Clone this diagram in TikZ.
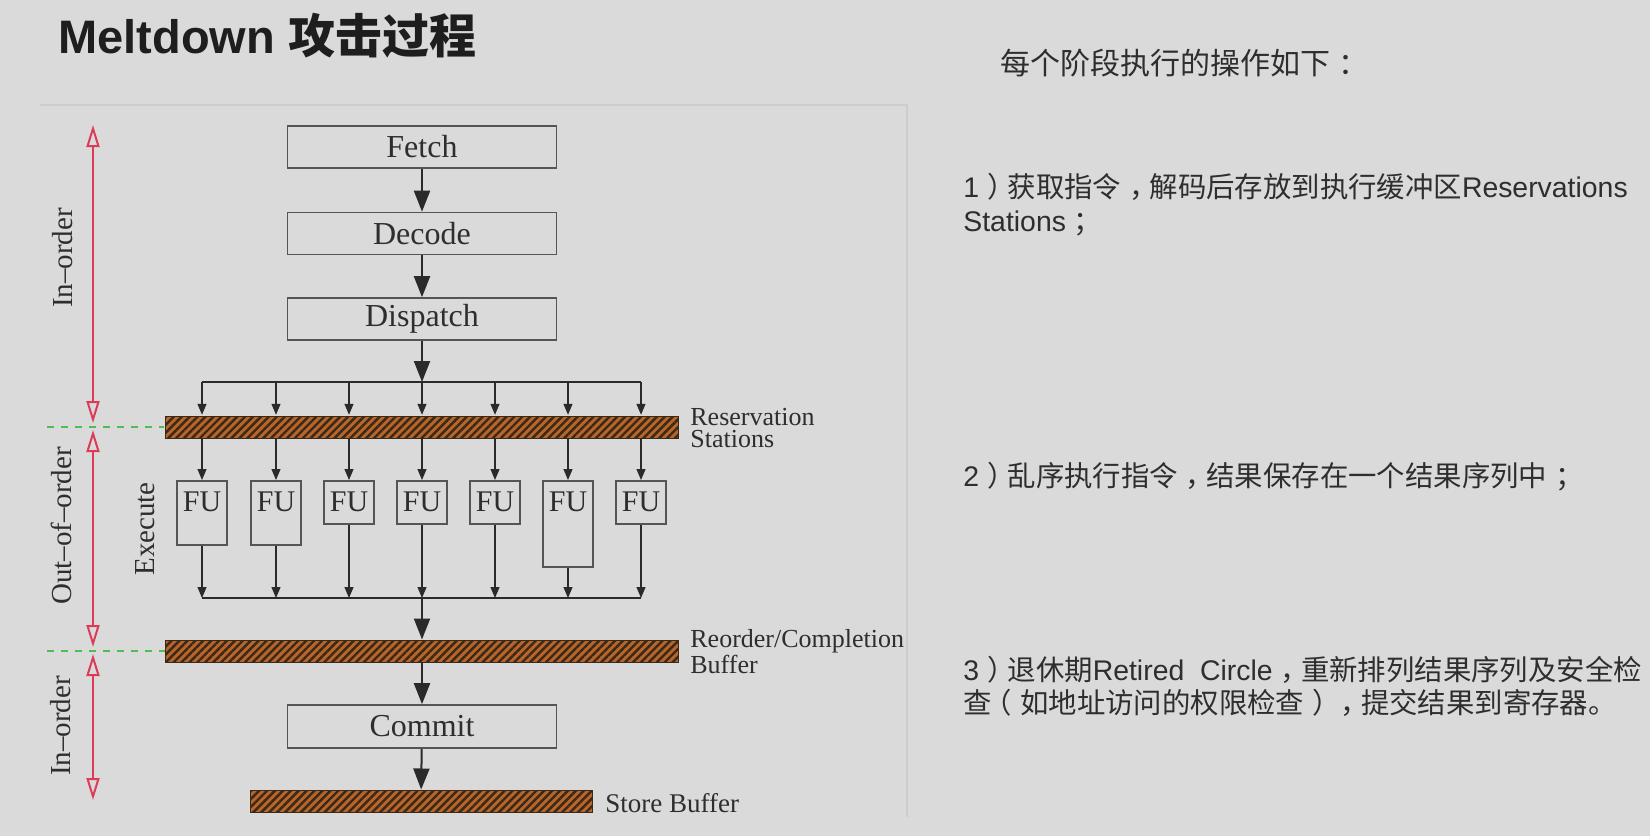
\documentclass[tikz,border=0pt]{standalone}
\usepackage{fontspec}
\setmainfont{Liberation Serif}
\newfontfamily\lat{Liberation Sans}
\newfontfamily\cjk{Noto Sans CJK SC}
\usetikzlibrary{arrows.meta,patterns.meta}

\definecolor{bgcol}{HTML}{DADADA}
\definecolor{edgecol}{HTML}{CDCDCD}
\definecolor{titlecol}{HTML}{1E1E1E}
\definecolor{txtcol}{HTML}{2E2E2E}
\definecolor{boxcol}{HTML}{555555}
\definecolor{wirecol}{HTML}{2A2A2A}
\definecolor{barfill}{HTML}{B8652A}
\definecolor{barstripe}{HTML}{3A2818}
\definecolor{stagered}{HTML}{DC3C5A}
\definecolor{splitgreen}{HTML}{4CC04C}

\newcommand\zh[1]{{\cjk #1}}
% full-width punctuation with its glyph moved to the middle of the em box
\newcommand\zpr[1]{\hspace{0.28em}{\cjk #1}\hspace{-0.28em}}
\newcommand\zpl[1]{\hspace{-0.28em}{\cjk #1}\hspace{0.28em}}

\tikzset{
  stagebox/.style={draw=boxcol, line width=0.8pt, minimum width=134.5pt,
    minimum height=21pt, inner sep=0pt, text=txtcol,
    font=\fontsize{16}{18}\selectfont},
  bufbar/.style={draw=barstripe, line width=0.5pt, inner sep=0pt,
    minimum height=11pt, preaction={fill=barfill},
    pattern={Lines[angle=45,distance=2.8pt,line width=1.2pt]},
    pattern color=barstripe},
  fubox/.style={draw=boxcol, line width=0.8pt, minimum width=25pt,
    inner sep=0pt, anchor=north},
  fulabel/.style={inner sep=0pt, text=txtcol, font=\fontsize{15}{17}\selectfont},
  buflabel/.style={anchor=west, inner sep=0pt, align=left, text=txtcol,
    font=\fontsize{13}{11}\selectfont},
  sidelabel/.style={rotate=90, inner sep=0pt, text=txtcol,
    font=\fontsize{14.5}{16}\selectfont},
  bigarrow/.style={draw=wirecol, line width=1pt,
    -{Triangle[length=10.5pt,width=8pt]}},
  smallarrow/.style={draw=wirecol, line width=0.6pt,
    -{Triangle[length=5.5pt,width=4.5pt]}},
  wire/.style={draw=wirecol, line width=0.6pt},
  spanarrow/.style={draw=stagered, line width=1pt,
    {Triangle[open,length=11pt,width=6.5pt]}-{Triangle[open,length=11pt,width=6.5pt]}},
  splitline/.style={draw=splitgreen, line width=1pt, dash pattern=on 3.5pt off 3.5pt},
  notes/.style={anchor=base west, inner sep=0pt, text=txtcol,
    font=\fontsize{14.2}{17}\selectfont},
}

\begin{document}
\begin{tikzpicture}[x=0.5pt,y=-0.5pt]
\useasboundingbox (0,0) rectangle (1650,836);
\fill[bgcol] (0,0) rectangle (1650,836);

% faint frame of the figure panel
\draw[edgecol, line width=1.2pt] (40,105) -- (907,105) -- (907,817);

% heading
\node[anchor=base west, inner sep=0pt, text=titlecol,
  font=\fontsize{23.5}{28}\selectfont\bfseries] (title) at (58,53)
  {\lat Meltdown {\cjk 攻击过程}};

% in-order front end
\node[stagebox] (fetch)    at (422,147)   {Fetch};
\node[stagebox] (decode)   at (422,233.5) {Decode};
\node[stagebox] (dispatch) at (422,319)   {Dispatch};

% buffers
\node[bufbar, minimum width=256.5pt] (rs)  at (422,427) {};
\node[bufbar, minimum width=256.5pt] (rob) at (422,651) {};
\node[bufbar, minimum width=171pt]   (sb)  at (421,801) {};

\node[buflabel] (rslabel) at (690,428) {Reservation\\Stations};
\begin{scope}
  \clip (0,0) rectangle (903,836);
  \node[buflabel] (roblabel) at (690,652) {Reorder/Completion\\Buffer};
\end{scope}
\node[anchor=west, inner sep=0pt, text=txtcol,
  font=\fontsize{13.5}{15}\selectfont] (sblabel) at (605,803) {Store Buffer};

% commit stage
\node[stagebox, minimum height=21.5pt] (commit) at (422,726.5) {Commit};

% functional units
\foreach \i/\x/\h in {1/202/32, 2/276/32, 3/349/21.5, 4/422/21.5,
                      5/495/21.5, 6/568/43, 7/641/21.5} {
  \node[fubox, minimum height=\h pt] (fu\i) at (\x,480) {};
  \node[fulabel] (fut\i) at (\x,501.5) {FU};
  \coordinate (fan\i) at (\x,382);
  \coordinate (col\i) at (\x,598);
}

% connections
\draw[bigarrow] (fetch) -- (decode);
\draw[bigarrow] (decode) -- (dispatch);
\draw[bigarrow] (dispatch) -- (fan4);
\draw[wire] (fan1) -- (fan7);
\foreach \i in {1,...,7} {
  \draw[smallarrow] (fan\i) -- (fan\i |- rs.north);
  \draw[smallarrow] (fu\i |- rs.south) -- (fu\i.north);
  \draw[smallarrow] (fu\i.south) -- (col\i);
}
\draw[wire] (col1) -- (col7);
\draw[bigarrow] (col4) -- (rob);
\draw[bigarrow] (rob) -- (commit);
\draw[bigarrow] (commit) -- (sb);

% pipeline ordering spans
\coordinate (s1a) at (93,125);
\coordinate (s1b) at (93,423);
\coordinate (s2a) at (93,430);
\coordinate (s2b) at (93,647);
\coordinate (s3a) at (93,654);
\coordinate (s3b) at (93,800);
\draw[spanarrow] (s1a) -- (s1b);
\draw[spanarrow] (s2a) -- (s2b);
\draw[spanarrow] (s3a) -- (s3b);

\coordinate (g1) at (47,427);
\coordinate (g2) at (47,651);
\draw[splitline] (g1) -- (rs.west);
\draw[splitline] (g2) -- (rob.west);

\node[sidelabel] (inorder1) at (63,258) {In--order};
\node[sidelabel] (ooo)      at (61,526) {Out--of--order};
\node[sidelabel] (inorder2) at (61,726) {In--order};
\node[sidelabel] (exec)     at (145,529) {Execute};

% explanatory notes
\node[notes, font=\fontsize{15}{18}\selectfont] (head) at (1000,74)
  {\zh{每个阶段执行的操作如下}\zpr{：}};
\node[notes] (n1a) at (963,197.5)
  {{\lat 1}\zpr{）}\zh{获取指令}\zpr{，}\zh{解码后存放到执行缓冲区}{\lat Reservations}};
\node[notes] (n1b) at (963,231.5) {{\lat Stations}\zpr{；}};
\node[notes] (n2) at (963,486.5)
  {{\lat 2}\zpr{）}\zh{乱序执行指令}\zpr{，}\zh{结果保存在一个结果序列中}\zpr{；}};
\node[notes] (n3a) at (963,680)
  {{\lat 3}\zpr{）}\zh{退休期}{\lat Retired\ \ Circle}\zpr{，}\zh{重新排列结果序列及安全检}};
\node[notes] (n3b) at (963,713)
  {\zh{查}\zpl{（}\zh{如地址访问的权限检查}\zpr{）}\zpr{，}\zh{提交结果到寄存器。}};
\end{tikzpicture}
\end{document}
